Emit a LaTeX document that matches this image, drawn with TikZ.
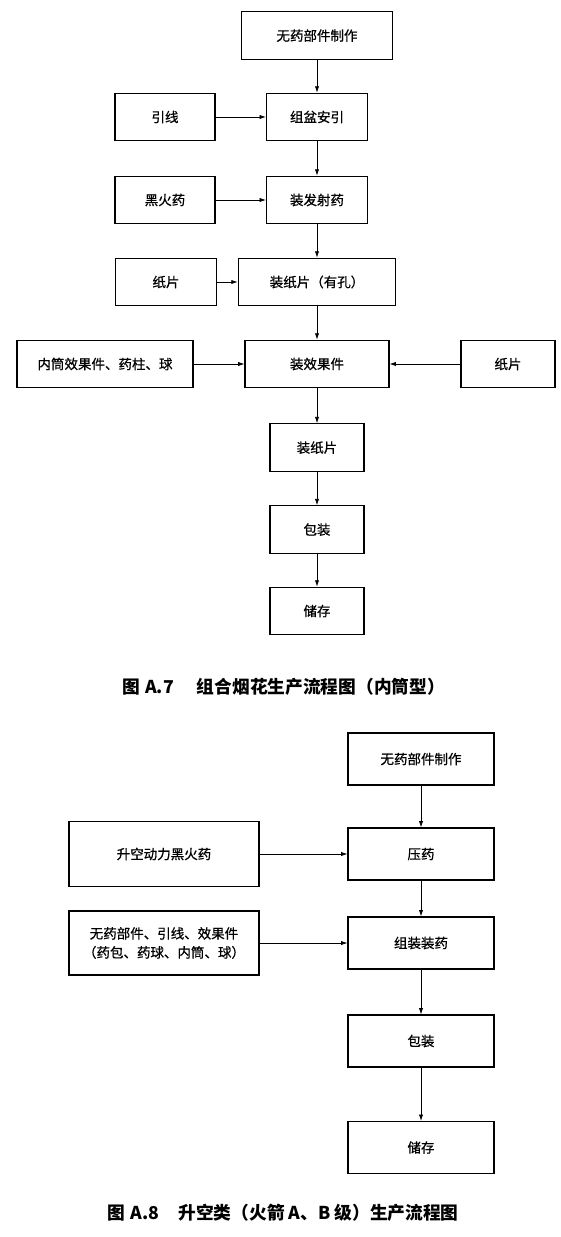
\documentclass[tikz,border=0pt]{standalone}
\usepackage{fontspec}
\setmainfont{Noto Sans CJK SC}
\newfontfamily\cjkbox[FakeBold=0.7]{Noto Sans CJK SC}
\usetikzlibrary{arrows.meta}
\newcommand{\taillet}{\cjkbox\fontsize{9.6pt}{13.5pt}\selectfont}
\newcommand{\taillec}{\fontsize{12.6pt}{15pt}\selectfont\bfseries}
\tikzset{
  boite/.style={draw,line width=0.8pt,inner sep=0pt,minimum height=1.19cm,align=center,font=\taillet},
  fleche/.style={->,>={Latex[length=4.5pt,width=3pt]},line width=0.5pt},
}

\begin{document}
\begin{tikzpicture}
        \useasboundingbox (0,0) rectangle (14,-30.925);
        % figure A.7
        \node[boite,minimum width=3.775cm] (wuyao) at (7.925,-0.89) {无药部件制作};
        \node[boite,minimum width=2.525cm] (zupen) at (7.925,-2.925) {组盆安引};
        \draw[fleche] (wuyao) -- (zupen);
        \node[boite,minimum width=2.5cm] (yinx) at (4.125,-2.925) {引线};
        \draw[fleche] (yinx) -- (zupen);
        \node[boite,minimum width=2.525cm] (fashe) at (7.925,-5.0) {装发射药};
        \draw[fleche] (zupen) -- (fashe);
        \node[boite,minimum width=2.5cm] (heihuo) at (4.125,-5.0) {黑火药};
        \draw[fleche] (heihuo) -- (fashe);
        \node[boite,minimum width=3.94cm] (zhikong) at (7.925,-7.05) {装纸片（有孔）};
        \draw[fleche] (fashe) -- (zhikong);
        \node[boite,minimum width=2.52cm] (zhipA) at (4.15,-7.05) {纸片};
        \draw[fleche] (zhipA) -- (zhikong);
        \node[boite,minimum width=3.6cm] (xiaog) at (7.925,-9.1) {装效果件};
        \draw[fleche] (zhikong) -- (xiaog);
        \node[boite,minimum width=4.4cm] (neit) at (2.625,-9.1) {内筒效果件、药柱、球};
        \draw[fleche] (neit) -- (xiaog);
        \node[boite,minimum width=2.35cm] (zhipB) at (12.7,-9.1) {纸片};
        \draw[fleche] (zhipB) -- (xiaog);
        \node[boite,minimum width=2.35cm] (zhip) at (7.925,-11.19) {装纸片};
        \draw[fleche] (xiaog) -- (zhip);
        \node[boite,minimum width=2.35cm] (baoz) at (7.925,-13.24) {包装};
        \draw[fleche] (zhip) -- (baoz);
        \node[boite,minimum width=2.35cm] (chuc) at (7.925,-15.275) {储存};
        \draw[fleche] (baoz) -- (chuc);
        \node[font=\taillec] (titreA) at (7.09,-17.175) {图\hspace{0.3em}A.7\hspace{1.3em}组合烟花生产流程图（内筒型）};
        % figure A.8
        \node[boite,minimum width=3.65cm,minimum height=1.3cm] (wuyaoB) at (10.525,-18.975) {无药部件制作};
        \node[boite,minimum width=3.65cm,minimum height=1.3cm] (yay) at (10.525,-21.35) {压药};
        \draw[fleche] (wuyaoB) -- (yay);
        \node[boite,minimum width=4.75cm,minimum height=1.625cm] (shengk) at (4.1,-21.35) {升空动力黑火药};
        \draw[fleche] (shengk) -- (yay);
        \node[boite,minimum width=3.65cm,minimum height=1.3cm] (zuzh) at (10.525,-23.575) {组装装药};
        \draw[fleche] (yay) -- (zuzh);
        \node[boite,minimum width=4.75cm,minimum height=1.6cm] (bujian) at (4.1,-23.575) {无药部件、引线、效果件\\（药包、药球、内筒、球）};
        \draw[fleche] (bujian) -- (zuzh);
        \node[boite,minimum width=3.65cm,minimum height=1.3cm] (baozB) at (10.525,-26.025) {包装};
        \draw[fleche] (zuzh) -- (baozB);
        \node[boite,minimum width=3.65cm,minimum height=1.3cm] (chucB) at (10.525,-28.6875) {储存};
        \draw[fleche] (baozB) -- (chucB);
        \node[font=\taillec] (titreB) at (7.075,-30.325) {图\hspace{0.3em}A.8\hspace{1.1em}升空类（火箭 A、B 级）生产流程图};
\end{tikzpicture}
\end{document}
